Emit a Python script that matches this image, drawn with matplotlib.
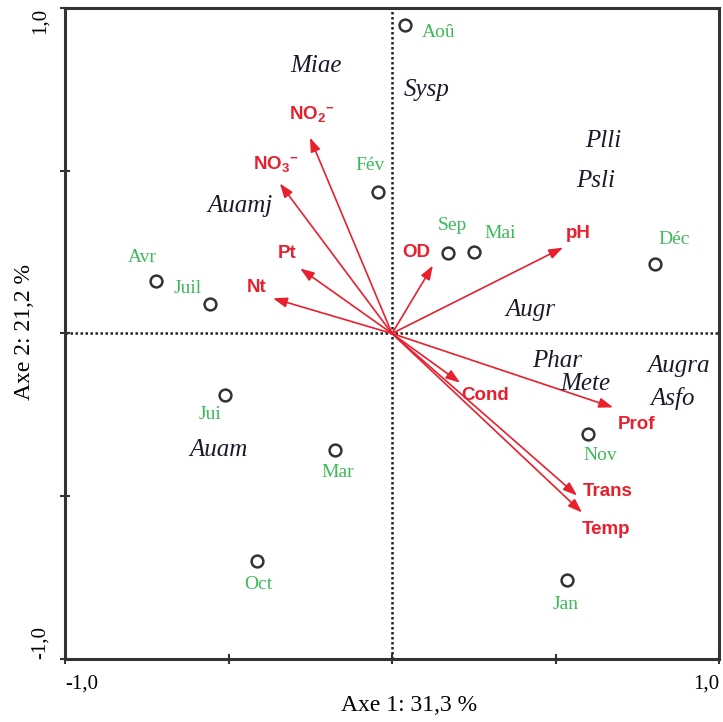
import matplotlib
matplotlib.use("Agg")
import matplotlib.pyplot as plt

# Sampling months (site scores)
months = ["Aoû", "Fév", "Sep", "Mai", "Déc", "Avr", "Juil", "Jui", "Mar", "Nov", "Oct", "Jan"]
month_x = [0.040, -0.043, 0.171, 0.251, 0.804, -0.722, -0.557, -0.511, -0.174, 0.599, -0.413, 0.535]
month_y = [0.949, 0.436, 0.246, 0.249, 0.215, 0.160, 0.092, -0.190, -0.359, -0.310, -0.700, -0.756]

# Environmental variables (arrow tips)
variables = ["NO$_2$$^{-}$", "NO$_3$$^{-}$", "Pt", "Nt", "OD", "pH", "Cond", "Prof", "Trans", "Temp"]
var_x = [-0.251, -0.343, -0.281, -0.364, 0.125, 0.523, 0.208, 0.676, 0.566, 0.581]
var_y = [0.602, 0.461, 0.200, 0.108, 0.209, 0.264, -0.151, -0.227, -0.498, -0.550]

# Species scores
species = ["Miae", "Sysp", "Plli", "Psli", "Auamj", "Augr", "Phar", "Mete", "Augra", "Asfo", "Auam"]
sp_x = [-0.232, 0.107, 0.645, 0.624, -0.465, 0.422, 0.505, 0.590, 0.875, 0.859, -0.532]
sp_y = [0.823, 0.747, 0.590, 0.470, 0.393, 0.071, -0.083, -0.154, -0.101, -0.200, -0.359]

# Label offsets (points)
month_off = [(24, -6), (-6, 19), (3, 20), (19, 14), (14, 17), (-10, 17),
             (-16, 11), (-11, -14), (2, -16), (9, -15), (1, -17), (-1, -18)]
var_off = [(1, 17), (-3, 14), (-9, 11), (-12, 8), (-12, 9), (11, 10),
           (18, -9), (17, -12), (22, 3), (17, -12)]

plt.rcParams["mathtext.fontset"] = "custom"
plt.rcParams["mathtext.rm"] = "Liberation Sans:bold"
plt.rcParams["mathtext.it"] = "Liberation Sans:bold"
plt.rcParams["mathtext.bf"] = "Liberation Sans:bold"

RED = "#e8202e"
GREEN = "#3dba5a"
SERIF = "Liberation Serif"

fig = plt.figure(figsize=(7.23, 7.22), dpi=100)
ax = fig.add_axes([0.0899, 0.0873, 0.9046, 0.9016])
ax.set_xlim(-1, 1)
ax.set_ylim(-1, 1)

# Origin cross-hairs
ax.axhline(0, color="#222222", lw=1.8, ls=(0, (1, 1.0)), zorder=1)
ax.axvline(0, color="#222222", lw=1.8, ls=(0, (1, 1.0)), zorder=1)

# Variable arrows
for name, x, y, off in zip(variables, var_x, var_y, var_off):
    ax.annotate("", xy=(x, y), xytext=(0, 0),
                arrowprops=dict(arrowstyle="-|>,head_length=0.7,head_width=0.25",
                                color=RED, lw=1.2, shrinkA=0, shrinkB=0,
                                mutation_scale=12), zorder=3)
    ax.annotate(name, xy=(x, y), xytext=off, textcoords="offset points",
                ha="center", va="center", color=RED, fontsize=13.5,
                fontweight="bold", family="Liberation Sans", zorder=4)

# Months
ax.plot(month_x, month_y, "o", ms=8.5, mfc="white", mec="#333333", mew=1.8,
        ls="none", zorder=5)
for name, x, y, off in zip(months, month_x, month_y, month_off):
    ax.annotate(name, xy=(x, y), xytext=off, textcoords="offset points",
                ha="center", va="center", color=GREEN, fontsize=14,
                family=SERIF, zorder=4)

# Species
for name, x, y in zip(species, sp_x, sp_y):
    ax.text(x, y, name, ha="center", va="center", color="#1a1a2a",
            fontsize=18, style="italic", family=SERIF, zorder=4)

# Frame and ticks
for side, sp in ax.spines.items():
    sp.set_linewidth(2.2)
    sp.set_color("#333333")
ax.set_xticks([-1, -0.5, 0, 0.5, 1])
ax.set_yticks([-1, -0.5, 0, 0.5, 1])
ax.set_xticklabels(["-1,0", "", "", "", "1,0"])
ax.set_yticklabels(["-1,0", "", "", "", "1,0"], rotation=90)
ax.tick_params(direction="inout", length=7, width=1.5, color="#333333",
               labelsize=15, pad=8)
for lab in ax.get_xticklabels() + ax.get_yticklabels():
    lab.set_family(SERIF)
xl = ax.get_xticklabels()
xl[0].set_ha("left")
xl[-1].set_ha("right")
yl = ax.get_yticklabels()
yl[0].set_va("bottom")
yl[-1].set_va("top")
yl[0].set_ha("center")
yl[-1].set_ha("center")
ax.tick_params(axis="y", pad=14)

fig.text(409 / 723, 0.023, "Axe 1: 31,3 %", ha="center", va="center",
         fontsize=17, family=SERIF)
fig.text(0.034, 0.54, "Axe 2: 21,2 %", ha="center", va="center",
         rotation=90, fontsize=17, family=SERIF)

fig.savefig("out.png", dpi=100, facecolor="white")
